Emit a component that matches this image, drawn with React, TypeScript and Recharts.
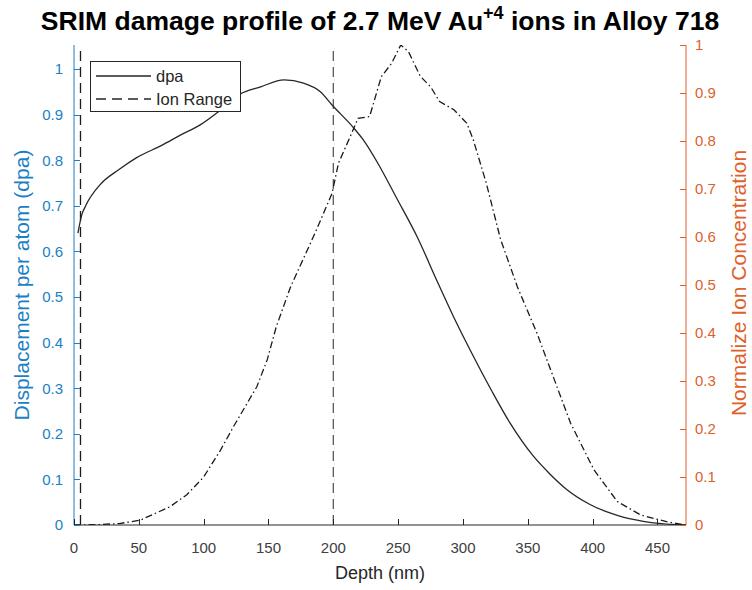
import { LineChart, Line, XAxis, YAxis, ReferenceLine } from 'recharts';

// depth axis (nm)
const depthTicks = [0, 50, 100, 150, 200, 250, 300, 350, 400, 450];
const dpaTicks = [0, 0.1, 0.2, 0.3, 0.4, 0.5, 0.6, 0.7, 0.8, 0.9, 1];
const ionTicks = [0, 0.1, 0.2, 0.3, 0.4, 0.5, 0.6, 0.7, 0.8, 0.9, 1];

// dpa profile (left axis)
const dpaDepth = [3, 6, 9, 20, 35, 48, 68, 82, 97, 113, 128, 144, 162, 177, 190, 199, 215, 223, 234, 249, 265, 280, 293, 308, 322, 336, 354, 367, 380, 398, 419, 439, 453, 472];
const dpaValue = [0.64, 0.68, 0.7, 0.746, 0.78, 0.805, 0.833, 0.855, 0.877, 0.91, 0.945, 0.961, 0.976, 0.969, 0.95, 0.921, 0.873, 0.845, 0.795, 0.716, 0.63, 0.535, 0.455, 0.37, 0.295, 0.225, 0.152, 0.112, 0.078, 0.045, 0.021, 0.008, 0.003, 0];

// normalized ion concentration (right axis)
const ionDepth = [0, 20, 35, 51, 74, 87, 100, 113, 123, 141, 149, 156, 167, 180, 187, 199, 204, 213, 219, 228, 237, 245, 252, 258, 267, 275, 282, 293, 303, 308, 318, 329, 342, 357, 370, 383, 401, 419, 437, 457, 472];
const ionValue = [0, 0.001, 0.003, 0.01, 0.038, 0.063, 0.1, 0.156, 0.205, 0.288, 0.344, 0.413, 0.496, 0.573, 0.615, 0.691, 0.754, 0.809, 0.847, 0.851, 0.934, 0.962, 1, 0.986, 0.935, 0.913, 0.882, 0.865, 0.837, 0.802, 0.712, 0.595, 0.496, 0.4, 0.306, 0.212, 0.115, 0.049, 0.021, 0.007, 0];

// ion range markers (nm)
const rangeMarks = [5, 200];
const rangeColors = ['#1a1a1a', '#5a5a5a'];

const dpaData = dpaDepth.map((depth, i) => ({ depth, dpa: dpaValue[i] }));
const ionData = ionDepth.map((depth, i) => ({ depth, ion: ionValue[i] }));

const FONT = "'Liberation Sans', Arial, Helvetica, sans-serif";
const BLUE = '#1a7fc4';
const ORANGE = '#e0602a';
const AXIS = '#262626';
const X_MAX = 472;
const DPA_MAX = 1.0526;

// plot box (matches chart margins / axis sizes below)
const PLOT = { left: 74, top: 45, width: 612, height: 480 };
const TICK = 5;
const snap = (v: number) => Math.round(v) + 0.5;
const px = (v: number) => snap(PLOT.left + (v / X_MAX) * PLOT.width);
const pyDpa = (v: number) => snap(PLOT.top + PLOT.height - (v / DPA_MAX) * PLOT.height);
const pyIon = (v: number) => snap(PLOT.top + PLOT.height - v * PLOT.height);

export default function App() {
  const bottom = PLOT.top + PLOT.height;
  const right = PLOT.left + PLOT.width;
  return (
    <div style={{ position: 'absolute', left: 0, top: 0, width: 752, height: 590, background: '#fff', fontFamily: FONT }}>
      <LineChart width={752} height={590} margin={{ top: PLOT.top, right: 0, bottom: 0, left: 0 }}>
        <XAxis
          type="number"
          dataKey="depth"
          domain={[0, X_MAX]}
          ticks={depthTicks}
          allowDataOverflow
          height={65}
          stroke={AXIS}
          tickLine={false}
          tickSize={0}
          tickMargin={17}
          tick={{ fontSize: 15, fill: '#404040', fontFamily: FONT }}
        />
        <YAxis
          yAxisId="left"
          domain={[0, DPA_MAX]}
          ticks={dpaTicks}
          allowDataOverflow
          width={PLOT.left}
          stroke={BLUE}
          tickLine={false}
          tickSize={0}
          tickMargin={11}
          tick={{ fontSize: 15, fill: BLUE, fontFamily: FONT }}
        />
        <YAxis
          yAxisId="right"
          orientation="right"
          domain={[0, 1]}
          ticks={ionTicks}
          allowDataOverflow
          width={66}
          stroke={ORANGE}
          tickLine={false}
          tickSize={0}
          tickMargin={9}
          tick={{ fontSize: 15, fill: ORANGE, fontFamily: FONT, textAnchor: 'start' }}
        />
        {rangeMarks.map((x, i) => (
          <ReferenceLine key={x} x={x} yAxisId="left" stroke={rangeColors[i]} strokeWidth={1.3} strokeDasharray="10 6" />
        ))}
        <Line
          yAxisId="left"
          data={dpaData}
          dataKey="dpa"
          type="monotone"
          stroke="#262626"
          strokeWidth={1.3}
          dot={false}
          isAnimationActive={false}
        />
        <Line
          yAxisId="right"
          data={ionData}
          dataKey="ion"
          type="linear"
          stroke="#1a1a1a"
          strokeWidth={1.3}
          strokeDasharray="7 3 1.5 3"
          dot={false}
          isAnimationActive={false}
        />
      </LineChart>
      <svg width={752} height={590} style={{ position: 'absolute', left: 0, top: 0, pointerEvents: 'none' }}>
        {/* MATLAB style inward tick marks */}
        <g shapeRendering="crispEdges" strokeWidth={1.5}>
          {dpaTicks.map((v) => (
            <line key={`l${v}`} x1={PLOT.left} x2={PLOT.left + TICK + 1} y1={pyDpa(v)} y2={pyDpa(v)} stroke={BLUE} />
          ))}
          {ionTicks.map((v) => (
            <line key={`r${v}`} x1={right - TICK - 1} x2={right} y1={pyIon(v)} y2={pyIon(v)} stroke={ORANGE} />
          ))}
          {depthTicks.map((v) => (
            <line key={`b${v}`} x1={px(v)} x2={px(v)} y1={bottom} y2={bottom - TICK - 1} stroke={AXIS} />
          ))}
        </g>
        <text x={380} y={30} textAnchor="middle" fontSize={26.5} fontWeight="bold" fill="#000" fontFamily={FONT}>
          SRIM damage profile of 2.7 MeV Au
          <tspan dy={-11} fontSize={18}>+4</tspan>
          <tspan dy={11}> ions in Alloy 718</tspan>
        </text>
        <text x={0} y={0} transform="translate(29,285) rotate(-90)" textAnchor="middle" fontSize={21} fill={BLUE} fontFamily={FONT}>
          Displacement per atom (dpa)
        </text>
        <text x={0} y={0} transform="translate(746,283) rotate(-90)" textAnchor="middle" fontSize={21} fill={ORANGE} fontFamily={FONT}>
          Normalize Ion Concentration
        </text>
        <text x={380} y={579} textAnchor="middle" fontSize={18} fill="#262626" fontFamily={FONT}>
          Depth (nm)
        </text>
        <rect x={90.5} y={61.5} width={150} height={50} fill="#fff" stroke={AXIS} strokeWidth={1} />
        <line x1={96} y1={76} x2={151} y2={76} stroke="#262626" strokeWidth={1.3} />
        <text x={156} y={81.5} fontSize={16.5} fill="#262626" fontFamily={FONT}>dpa</text>
        <line x1={96} y1={99} x2={151} y2={99} stroke="#262626" strokeWidth={1.3} strokeDasharray="10 6" />
        <text x={156} y={104.5} fontSize={16.5} fill="#262626" fontFamily={FONT}>Ion Range</text>
      </svg>
    </div>
  );
}
